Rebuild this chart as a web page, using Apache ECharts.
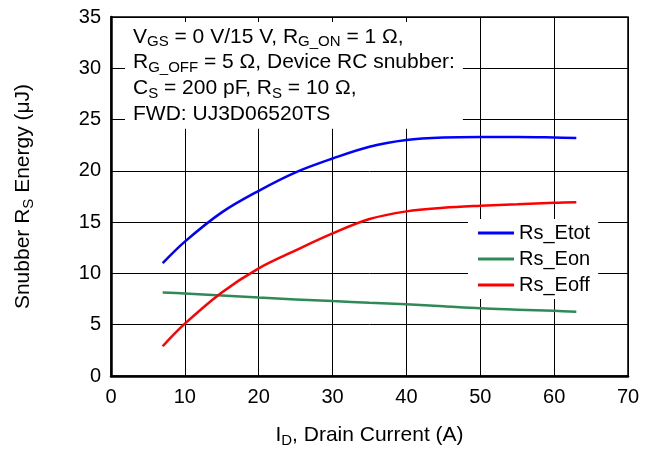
<!DOCTYPE html>
<html>
<head>
<meta charset="utf-8">
<script src="https://cdn.jsdelivr.net/npm/echarts@6.0.0/dist/echarts.min.js"></script>
<style>
  html, body { margin: 0; padding: 0; background: #fff; }
  #chart { width: 650px; height: 450px; }
</style>
</head>
<body>
<div id="chart"></div>
<script>
// drain current (A), sampled along the curves
const current = [7, 10, 15, 20, 25, 30, 35, 40, 45, 50, 55, 60, 63];
// snubber Rs energy (uJ)
const rsEtot = [11.0, 13.1, 15.95, 18.05, 19.85, 21.2, 22.35, 23.0, 23.25, 23.3, 23.3, 23.25, 23.2];
const rsEon = [8.15, 8.05, 7.85, 7.65, 7.47, 7.3, 7.15, 7.0, 6.8, 6.6, 6.47, 6.35, 6.27];
const rsEoff = [2.9, 5.1, 8.15, 10.5, 12.25, 13.9, 15.3, 16.05, 16.4, 16.6, 16.75, 16.9, 16.95];

const seriesNames = ["Rs_Etot", "Rs_Eon", "Rs_Eoff"];
const seriesColors = ["#0000ff", "#2e8b57", "#ff0000"];

const noteLines = [
  "V{s|GS} = 0 V/15 V, R{s|G_ON} = 1 Ω,",
  "R{s|G_OFF} = 5 Ω, Device RC snubber:",
  "C{s|S} = 200 pF, R{s|S} = 10 Ω,",
  "FWD: UJ3D06520TS",
];

const font = "Liberation Sans, Arial, Helvetica, sans-serif";
const sub = { fontSize: 15, fontFamily: font, verticalAlign: "bottom", lineHeight: 15 };

const chart = echarts.init(document.getElementById("chart"));

const axisCommon = {
  type: "value",
  nameLocation: "middle",
  axisLine: { show: true, lineStyle: { color: "#000", width: 2.5 } },
  axisTick: { show: false },
  splitLine: { show: true, lineStyle: { color: "#000", width: 1 } },
  axisLabel: { color: "#000", fontSize: 20, fontFamily: font },
  nameTextStyle: {
    color: "#000",
    fontSize: 21,
    fontFamily: font,
    lineHeight: 26,
    rich: { s: Object.assign({}, sub, { lineHeight: 16 }) },
  },
};

const allData = [rsEtot, rsEon, rsEoff];

const option = {
  animation: false,
  backgroundColor: "#fff",
  grid: {
    left: 111,
    right: 22,
    top: 17,
    bottom: 74,
    show: true,
    borderColor: "#000",
    borderWidth: 1.5,
    outerBoundsMode: "none",
  },
  title: {
    left: 125,
    top: 22,
    padding: [2, 8, 2, 8],
    backgroundColor: "#fff",
    text: noteLines.join("\n"),
    textStyle: {
      color: "#000",
      fontSize: 21,
      fontWeight: "normal",
      fontFamily: font,
      lineHeight: 25.7,
      rich: { s: sub },
    },
  },
  legend: {
    orient: "vertical",
    left: 468,
    top: 219,
    z: 1,
    padding: [3, 8, 3, 10],
    backgroundColor: "#fff",
    icon: "rect",
    itemWidth: 36,
    itemHeight: 3,
    itemGap: 4,
    data: seriesNames,
    textStyle: { color: "#000", fontSize: 20, fontFamily: font, lineHeight: 22 },
  },
  xAxis: Object.assign({}, axisCommon, {
    min: 0,
    max: 70,
    interval: 10,
    name: "I{s|D}, Drain Current (A)",
    nameGap: 46,
    axisLabel: Object.assign({}, axisCommon.axisLabel, { margin: 11 }),
  }),
  yAxis: Object.assign({}, axisCommon, {
    min: 0,
    max: 35,
    interval: 5,
    name: "Snubber R{s|S} Energy (μJ)",
    nameGap: 75,
    nameRotate: 90,
    axisLabel: Object.assign({}, axisCommon.axisLabel, { margin: 10 }),
  }),
  series: seriesNames.map((name, k) => ({
    name: name,
    type: "line",
    symbol: "none",
    smooth: 0.35,
    color: seriesColors[k],
    lineStyle: { width: 2.5, color: seriesColors[k] },
    data: current.map((x, i) => [x, allData[k][i]]),
  })),
};

chart.setOption(option);
</script>
</body>
</html>
